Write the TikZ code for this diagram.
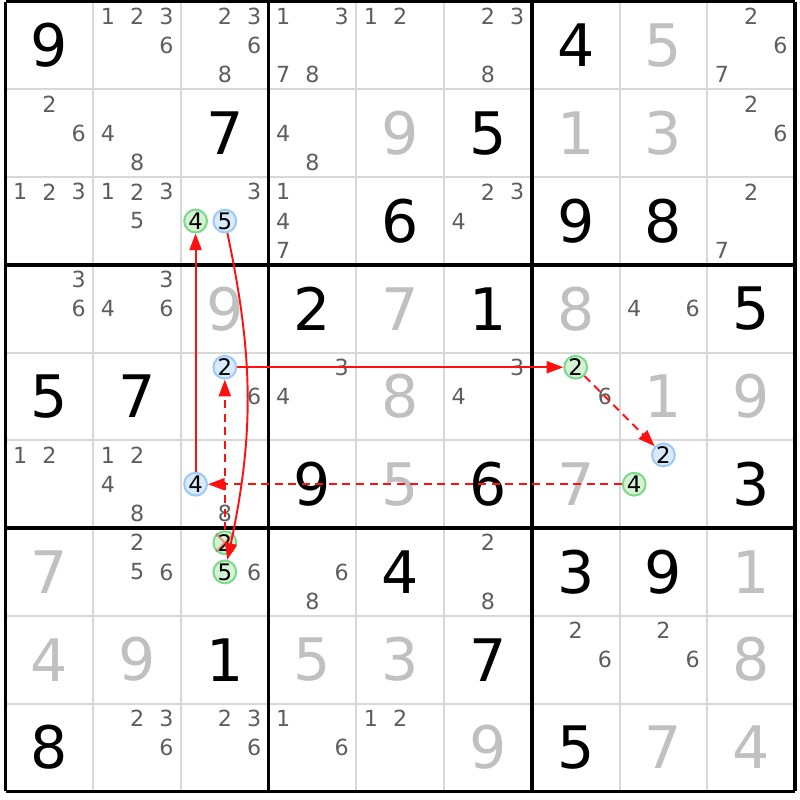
\documentclass[tikz,border=0pt]{standalone}
\usepackage{fontspec}
\setmainfont{DejaVu Sans}
\usepackage{tikz}
\usetikzlibrary{arrows.meta}
\definecolor{candgray}{HTML}{5E5E5E}
\definecolor{solvedgray}{HTML}{C0C0C0}
\definecolor{gridgray}{HTML}{D8D8D8}
\definecolor{ongreen}{HTML}{D3F3D3}
\definecolor{ongreenline}{HTML}{7CD88A}
\definecolor{onblue}{HTML}{D8EAFB}
\definecolor{onblueline}{HTML}{9CC9F5}
\definecolor{chainred}{HTML}{FF1010}
\tikzset{
  given/.style={font=\fontsize{19}{19}\selectfont, text=black, inner sep=0pt},
  solved/.style={given, text=solvedgray},
  cand/.style={font=\fontsize{7.2}{7.2}\selectfont, text=candgray, inner sep=0pt},
  oncand/.style={circle, minimum size=2.6mm, inner sep=0pt, line width=0.65pt,
    font=\fontsize{7.4}{7.4}\selectfont, text=black},
  greencand/.style={oncand, draw=ongreenline, fill=ongreen},
  bluecand/.style={oncand, draw=onblueline, fill=onblue},
  thingrid/.style={draw=gridgray, line width=0.65pt},
  boxgrid/.style={draw=black, line width=1.1pt, line cap=square},
  stronglink/.style={color=chainred, line width=0.62pt, -{Triangle[length=5.4pt,width=3.9pt]}},
  weaklink/.style={stronglink, dash pattern=on 2.6pt off 1.8pt},
  strike/.style={draw=red, opacity=.35, line width=0.7pt}
}
\begin{document}
\begin{tikzpicture}
    \path[fill=white,use as bounding box] (-0.063,0.02) rectangle (9.057,-9.1);
    \foreach \i in {1,2,4,5,7,8} {
        \draw[thingrid] (\i,0) -- (\i,-9);
        \draw[thingrid] (0,-\i) -- (9,-\i);
    }
    \foreach \i in {0,3,6,9} {
        \draw[boxgrid] (\i,0) -- (\i,-9);
        \draw[boxgrid] (0,-\i) -- (9,-\i);
    }

    \foreach \r/\c/\d in {1/1/9,1/7/4,2/3/7,2/6/5,3/5/6,3/7/9,3/8/8,4/4/2,4/6/1,4/9/5,
        5/1/5,5/2/7,6/4/9,6/6/6,6/9/3,7/5/4,7/7/3,7/8/9,8/3/1,8/6/7,9/1/8,9/7/5}
        \node[given] (d\r\c) at (\c-0.5,0.5-\r) {\d};
    \foreach \r/\c/\d in {1/8/5,2/5/9,2/7/1,2/8/3,4/3/9,4/5/7,4/7/8,5/5/8,5/8/1,5/9/9,
        6/5/5,6/7/7,7/1/7,7/9/1,8/1/4,8/2/9,8/4/5,8/5/3,8/9/8,9/6/9,9/8/7,9/9/4}
        \node[solved] (d\r\c) at (\c-0.5,0.5-\r) {\d};

    \foreach \r/\c/\ds in {1/2/{1,2,3,6},1/3/{2,3,6,8},1/4/{1,3,7,8},1/5/{1,2},1/6/{2,3,8},
        1/9/{2,6,7},2/1/{2,6},2/2/{4,8},2/4/{4,8},2/9/{2,6},3/1/{1,2,3},3/2/{1,2,3,5},
        3/3/{3},3/4/{1,4,7},3/6/{2,3,4},3/9/{2,7},4/1/{3,6},4/2/{3,4,6},4/8/{4,6},
        5/3/{6},5/4/{3,4},5/6/{3,4},5/7/{6},6/1/{1,2},6/2/{1,2,4,8},6/3/{8},
        7/2/{2,5,6},7/3/{6},7/4/{6,8},7/6/{2,8},8/7/{2,6},8/8/{2,6},
        9/2/{2,3,6},9/3/{2,3,6},9/4/{1,6},9/5/{1,2}}
        \foreach \d in \ds
            \node[cand] (c\r\c-\d) at ({\c-0.5+(mod(\d-1,3)-1)/3},{0.5-\r-(int((\d-1)/3)-1)/3}) {\d};

    \node[greencand] (n33-4) at (2.1667,-2.5) {4};
    \node[bluecand] (n33-5) at (2.5,-2.5) {5};
    \node[bluecand] (n53-2) at (2.5,-4.1667) {2};
    \node[greencand] (n57-2) at (6.5,-4.1667) {2};
    \node[bluecand] (n63-4) at (2.1667,-5.5) {4};
    \node[bluecand] (n68-2) at (7.5,-5.1667) {2};
    \node[greencand] (n68-4) at (7.1667,-5.5) {4};
    \node[greencand] (n73-2) at (2.5,-6.1667) {2};
    \node[greencand] (n73-5) at (2.5,-6.5) {5};
    \draw[strike] (n73-2.north west) -- (n73-2.south east)
        (n73-2.north east) -- (n73-2.south west);

    \draw[stronglink] (n53-2) -- (n57-2);
    \draw[weaklink] (n57-2) -- (n68-2);
    \draw[weaklink] (n68-4) -- (n63-4);
    \draw[stronglink] (n63-4) -- (n33-4);
    \draw[stronglink] (n33-5) to[bend left=12] (n73-5);
    \draw[weaklink] (n73-2) -- (n53-2);
\end{tikzpicture}
\end{document}
